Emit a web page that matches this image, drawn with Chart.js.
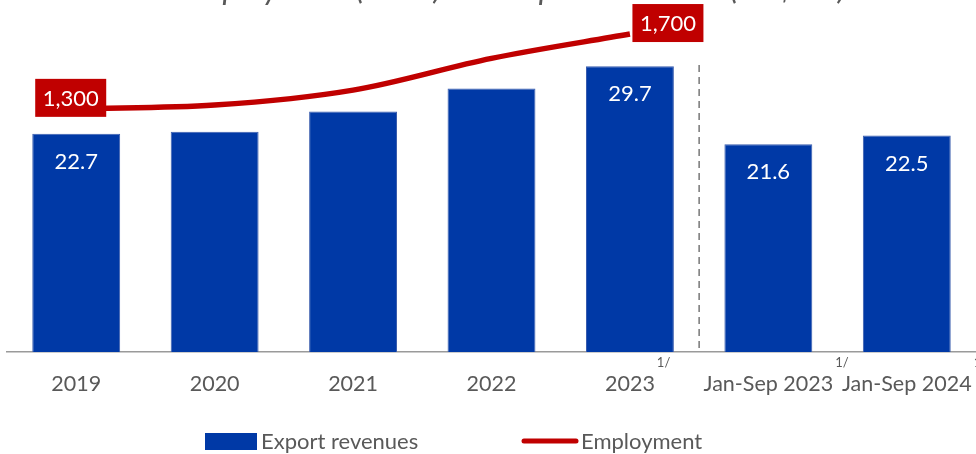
<!DOCTYPE html>
<html><head><meta charset="utf-8">
<script src="https://cdn.jsdelivr.net/npm/chart.js@4.4.1/dist/chart.umd.min.js"></script>
<style>html,body{margin:0;padding:0;background:#fff;overflow:hidden}#wrap{position:relative;width:976px;height:454px}</style>
</head><body><div id="wrap"><canvas id="c" width="976" height="454"></canvas></div>
<script>
const categories = ['2019', '2020', '2021', '2022', '2023', 'Jan-Sep 2023', 'Jan-Sep 2024'];
const exportRevenues = [22.7, 22.9, 25.0, 27.4, 29.7, 21.6, 22.5];
const employment = [1300, 1320, 1400, 1570, 1700, null, null];
const barLabelIndices = [0, 4, 5, 6];
const lineLabelIndices = [0, 4];
const footnoteIndices = [4, 5, 6];
const footnoteMark = '1/';
const titleText = 'Employment (000s) and export revenues (US$ bn)';
const seriesNames = ['Export revenues', 'Employment'];

const FONT = "Lato, 'Open Sans', 'Noto Sans', sans-serif";
const GRAY = '#595959';
const BLUE = '#0039A6';
const RED = '#C00000';
const TICK_SIZE = 21.5;
Chart.defaults.font.family = FONT;

const fmt = v => v.toLocaleString('en-US');

const decor = {
  id: 'decor',
  beforeDatasetsDraw(chart) {
    const ctx = chart.ctx, x = chart.scales.x, area = chart.chartArea;
    const xs = (x.getPixelForValue(4) + x.getPixelForValue(5)) / 2;
    ctx.save();
    ctx.strokeStyle = '#7F7F7F';
    ctx.lineWidth = 1.6;
    ctx.setLineDash([7, 5]);
    ctx.beginPath();
    ctx.moveTo(xs, 65);
    ctx.lineTo(xs, area.bottom);
    ctx.stroke();
    ctx.restore();
  },
  afterDatasetsDraw(chart) {
    const ctx = chart.ctx;
    ctx.save();
    const barMeta = chart.getDatasetMeta(0);
    ctx.fillStyle = '#FFFFFF';
    ctx.font = '22px ' + FONT;
    ctx.textAlign = 'center';
    ctx.textBaseline = 'middle';
    barLabelIndices.forEach(i => {
      const el = barMeta.data[i];
      ctx.fillText(exportRevenues[i].toFixed(1), el.x, el.y + 28);
    });
    const lineMeta = chart.getDatasetMeta(1);
    const offs = [[-5.5, -11], [38, -11]];
    lineLabelIndices.forEach((i, k) => {
      const el = lineMeta.data[i];
      const cx = el.x + offs[k][0], cy = el.y + offs[k][1];
      ctx.fillStyle = RED;
      ctx.fillRect(cx - 35.5, cy - 19, 71, 38);
      ctx.fillStyle = '#FFFFFF';
      ctx.fillText(fmt(employment[i]), cx, cy + 1);
    });
    ctx.restore();
  },
  afterDraw(chart) {
    const ctx = chart.ctx, x = chart.scales.x;
    ctx.save();
    ctx.font = 'italic 32.5px ' + FONT;
    ctx.fillStyle = GRAY;
    ctx.textAlign = 'center';
    ctx.textBaseline = 'alphabetic';
    ctx.fillText(titleText, 513, -1);
    ctx.font = TICK_SIZE + 'px ' + FONT;
    const widths = footnoteIndices.map(i => ctx.measureText(categories[i]).width);
    ctx.font = '13px ' + FONT;
    ctx.textAlign = 'left';
    ctx.textBaseline = 'middle';
    footnoteIndices.forEach((i, k) => {
      const px = x.getPixelForValue(i) + widths[k] / 2 + 2;
      ctx.fillText(footnoteMark, px, 363);
    });
    ctx.font = '22px ' + FONT;
    ctx.fillStyle = BLUE;
    ctx.fillRect(205, 433, 52, 17);
    ctx.fillStyle = GRAY;
    ctx.fillText(seriesNames[0], 261, 442);
    ctx.strokeStyle = RED;
    ctx.lineWidth = 5;
    ctx.lineCap = 'round';
    ctx.beginPath();
    ctx.moveTo(524, 441);
    ctx.lineTo(576, 441);
    ctx.stroke();
    ctx.fillText(seriesNames[1], 581, 442);
    ctx.restore();
  }
};

new Chart(document.getElementById('c'), {
  type: 'bar',
  data: {
    labels: categories,
    datasets: [
      {
        type: 'bar', label: seriesNames[0], data: exportRevenues, yAxisID: 'y',
        backgroundColor: BLUE, borderColor: '#3A5DAE', borderWidth: 1,
        barPercentage: 0.635, categoryPercentage: 1, order: 1
      },
      {
        type: 'line', label: seriesNames[1], data: employment, yAxisID: 'y2',
        borderColor: RED, borderWidth: 5.5, pointRadius: 0, cubicInterpolationMode: 'monotone',
        spanGaps: false, order: 0, borderCapStyle: 'butt'
      }
    ]
  },
  options: {
    responsive: false,
    animation: false,
    devicePixelRatio: 1,
    layout: { padding: { left: 7, right: 0, top: 0, bottom: 0 } },
    plugins: { legend: { display: false }, tooltip: { enabled: false }, title: { display: false } },
    scales: {
      x: {
        grid: { display: false, drawTicks: false },
        border: { display: true, color: '#9A9A9A', width: 1.5 },
        ticks: { color: GRAY, font: { size: TICK_SIZE }, padding: 19, maxRotation: 0, autoSkip: false },
        afterFit: s => { s.height = 102; s.paddingLeft = 0; s.paddingRight = 0; }
      },
      y: { display: false, min: 0, max: 36.6 },
      y2: { display: false, min: 0, max: 1882, position: 'right' }
    }
  },
  plugins: [decor]
});
</script>
</body></html>
